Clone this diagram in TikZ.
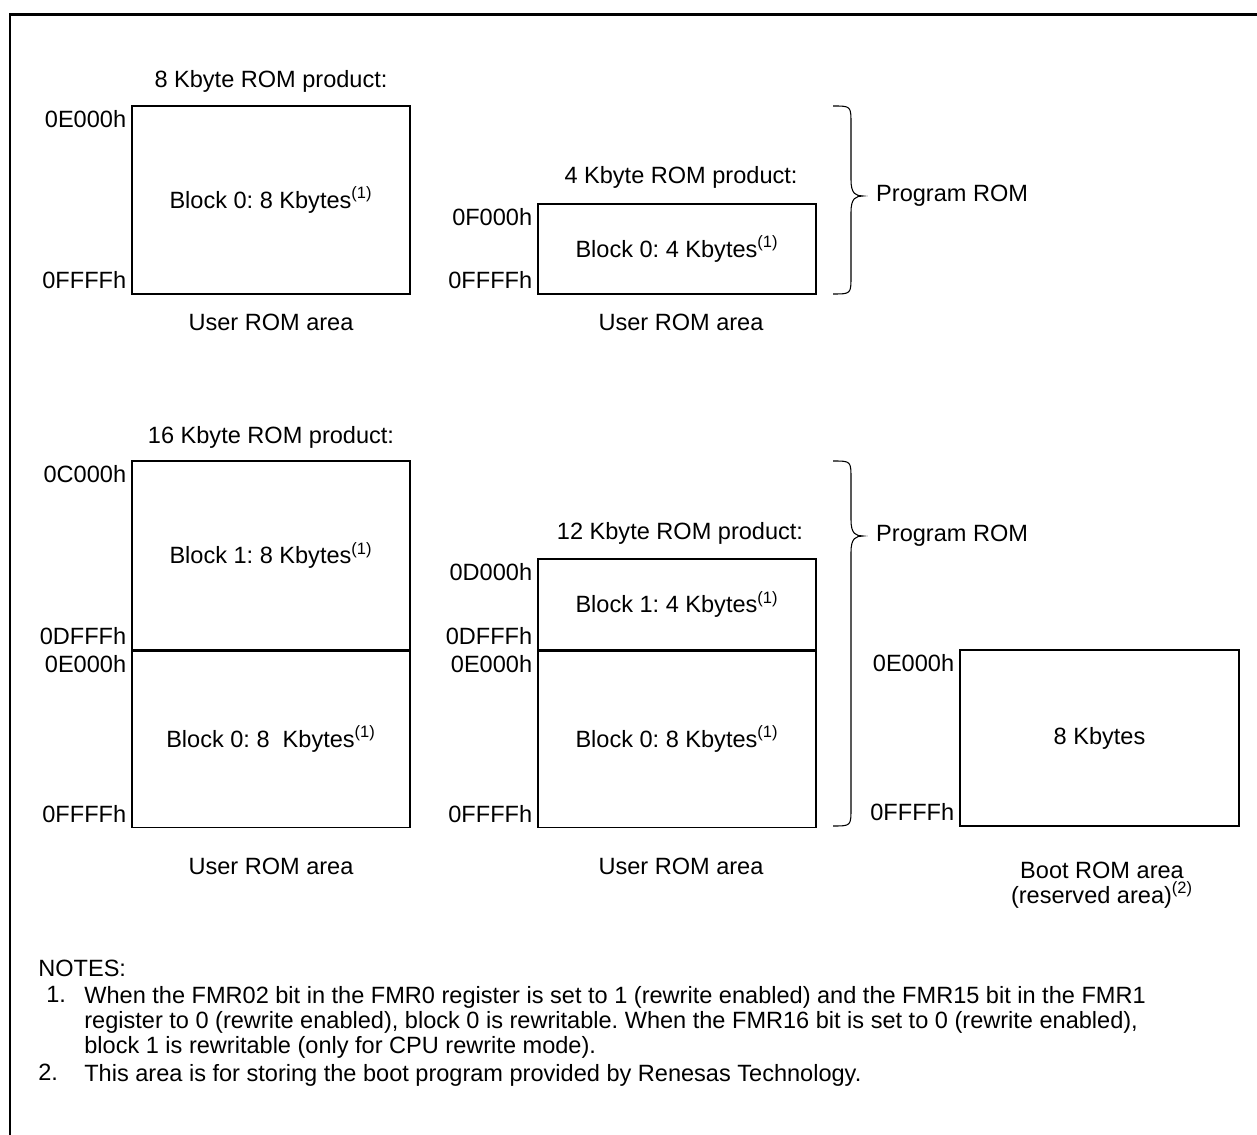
\documentclass[tikz,border=0pt]{standalone}
\usepackage{fontspec}
\setmainfont{Liberation Sans}
\usetikzlibrary{positioning}
\frenchspacing

% curly brace with its tip at #2, from #1 down to #3
\newcommand{\rombrace}[3]{%
  \draw[bracestroke] (833,#1) .. controls (851,#1) .. (851,#1+18)
    -- (851,#2-16) .. controls (851,#2-2) and (856,#2) .. (863,#2)
    .. controls (856,#2) and (851,#2+2) .. (851,#2+16)
    -- (851,#3-18) .. controls (851,#3) .. (833,#3);}

\begin{document}
\begin{tikzpicture}[
				x=0.2mm, y=-0.2mm,
				font=\fontsize{13.4}{15}\selectfont,
				memblock/.style={
					draw,
					line width=0.6pt,
					minimum width=55.6mm,
					inner sep=0pt,
					align=center
				},
				addr/.style={inner sep=1mm},
				bracestroke/.style={line width=0.6pt},
				notetext/.style={anchor=north west, inner sep=0pt, align=left,
					font=\fontsize{13.4}{14.2}\selectfont}
				]
				\useasboundingbox (0,0) rectangle (1257,1135);
				\draw[line width=1.7pt] (1257,15) -- (10,15) -- (10,1135);
				
				% 8 Kbyte product
				\node (h8) at (271,81) {8 Kbyte ROM product:};
				\node[memblock, minimum height=37.6mm] (blk8) at (271,200) {Block 0: 8 Kbytes\textsuperscript{(1)}};
				\node[addr, anchor=north east] (a8top) at (blk8.north west) {0E000h};
				\node[addr, anchor=south east] (a8bot) at (blk8.south west) {0FFFFh};
				\node (u8) at (271,322) {User ROM area};
				
				% 4 Kbyte product
				\node (h4) at (681,177) {4 Kbyte ROM product:};
				\node[memblock, minimum height=18mm] (blk4) at (677,249) {Block 0: 4 Kbytes\textsuperscript{(1)}};
				\node[addr, anchor=north east] (a4top) at (blk4.north west) {0F000h};
				\node[addr, anchor=south east] (a4bot) at (blk4.south west) {0FFFFh};
				\node (u4) at (681,322) {User ROM area};
				
				\rombrace{106}{196}{294}
				\node[anchor=west] (prog1) at (870,196) {Program ROM};
				
				% 16 Kbyte product
				\node (h16) at (271,437) {16 Kbyte ROM product:};
				\node[memblock, minimum height=37.8mm] (blk16a) at (271,555.5) {Block 1: 8 Kbytes\textsuperscript{(1)}};
				\node[memblock, minimum height=35.2mm, below=0pt of blk16a] (blk16b) {Block 0: 8\ \ Kbytes\textsuperscript{(1)}};
				\node[addr, anchor=north east] (a16top) at (blk16a.north west) {0C000h};
				\node[addr, anchor=south east] (a16mid) at (blk16a.south west) {0DFFFh};
				\node[addr, anchor=north east] (a16low) at (blk16b.north west) {0E000h};
				\node[addr, anchor=south east] (a16bot) at (blk16b.south west) {0FFFFh};
				\node (u16) at (271,866) {User ROM area};
				
				% 12 Kbyte product
				\node (h12) at (680,533) {12 Kbyte ROM product:};
				\node[memblock, minimum height=18.2mm] (blk12a) at (677,604.5) {Block 1: 4 Kbytes\textsuperscript{(1)}};
				\node[memblock, minimum height=35.2mm, below=0pt of blk12a] (blk12b) {Block 0: 8 Kbytes\textsuperscript{(1)}};
				\node[addr, anchor=north east] (a12top) at (blk12a.north west) {0D000h};
				\node[addr, anchor=south east] (a12mid) at (blk12a.south west) {0DFFFh};
				\node[addr, anchor=north east] (a12low) at (blk12b.north west) {0E000h};
				\node[addr, anchor=south east] (a12bot) at (blk12b.south west) {0FFFFh};
				\node (u12) at (681,866) {User ROM area};
				
				\rombrace{461}{536}{826}
				\node[anchor=west] (prog2) at (870,536) {Program ROM};
				
				% boot ROM
				\node[memblock, minimum width=55.8mm, minimum height=35.2mm] (boot) at (1099.5,738) {8 Kbytes};
				\node[addr, anchor=north east] (abtop) at (boot.north west) {0E000h};
				\node[addr, anchor=south east] (abbot) at (boot.south west) {0FFFFh};
				\node[align=center, font=\fontsize{13.4}{14}\selectfont] (bootlbl) at (1102,885) {Boot ROM area\\(reserved area)\textsuperscript{(2)}};
				
				% notes
				\node[anchor=west, inner sep=0pt] (notes) at (38,968) {NOTES:};
				\node[notetext] (n1num) at (46,986) {1.};
				\node[notetext] (n1) at (84,986) {When the FMR02 bit in the FMR0 register is set to 1 (rewrite enabled) and the FMR15 bit in the FMR1\\register to 0 (rewrite enabled), block 0 is rewritable. When the FMR16 bit is set to 0 (rewrite enabled),\\block 1 is rewritable (only for CPU rewrite mode).};
				\node[notetext] (n2num) at (38,1064) {2.};
				\node[notetext] (n2) at (84,1064) {This area is for storing the boot program provided by Renesas Technology.};
			\end{tikzpicture}
\end{document}
